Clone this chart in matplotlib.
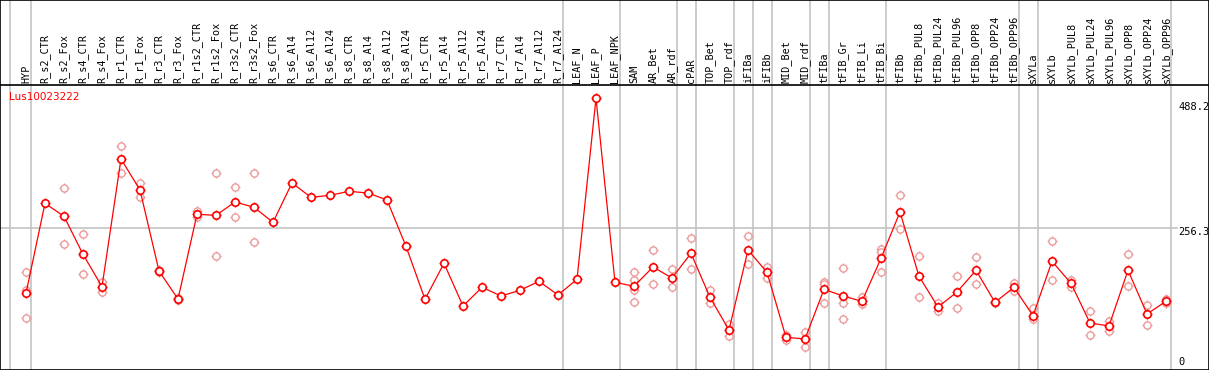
import matplotlib
matplotlib.use("Agg")
import matplotlib.pyplot as plt
import matplotlib.transforms as mtransforms

gene_id = "Lus10023222"

samples = [
    "HYP", "R_s2_CTR", "R_s2_Fox", "R_s4_CTR", "R_s4_Fox", "R_r1_CTR", "R_r1_Fox",
    "R_r3_CTR", "R_r3_Fox", "R_r1s2_CTR", "R_r1s2_Fox", "R_r3s2_CTR", "R_r3s2_Fox",
    "R_s6_CTR", "R_s6_Al4", "R_s6_Al12", "R_s6_Al24", "R_s8_CTR", "R_s8_Al4",
    "R_s8_Al12", "R_s8_Al24", "R_r5_CTR", "R_r5_Al4", "R_r5_Al12", "R_r5_Al24",
    "R_r7_CTR", "R_r7_Al4", "R_r7_Al12", "R_r7_Al24", "LEAF_N", "LEAF_P", "LEAF_NPK",
    "SAM", "AR_Bet", "AR_rdf", "cPAR", "TOP_Bet", "TOP_rdf", "iFIBa", "iFIBb",
    "MID_Bet", "MID_rdf", "tFIBa", "tFIB_Gr", "tFIB_Li", "tFIB_Bi", "tFIBb",
    "tFIBb_PUL8", "tFIBb_PUL24", "tFIBb_PUL96", "tFIBb_OPP8", "tFIBb_OPP24",
    "tFIBb_OPP96", "sXYLa", "sXYLb", "sXYLb_PUL8", "sXYLb_PUL24", "sXYLb_PUL96",
    "sXYLb_OPP8", "sXYLb_OPP24", "sXYLb_OPP96",
]

mean_expr = [
    140.4, 300.9, 277.7, 210.0, 152.2, 380.0, 324.7, 180.2, 130.2, 281.3, 279.5,
    303.3, 293.8, 267.0, 337.2, 311.6, 315.2, 322.3, 319.3, 306.8, 224.2, 129.7,
    193.9, 117.7, 151.1, 135.6, 145.7, 161.8, 137.4, 165.4, 488.2, 160.0,
    152.9, 187.3, 167.7, 211.7, 133.2, 74.9, 217.6, 177.8, 61.9, 58.9, 147.5,
    135.6, 126.1, 202.8, 285.4, 170.7, 116.0, 142.7, 181.4, 124.3, 151.1, 100.4,
    197.5, 158.2, 87.4, 82.1, 181.4, 103.5, 126.1,
]

replicates = [
    [177.8, 146.3, 95.8], [], [327.7, 227.8], [245.6, 174.8], [161.1, 142.2],
    [403.2, 354.5], [337.7, 311.6], [181.5, 179.0], [131.5, 129.0], [287.7, 277.0],
    [354.5, 206.9], [329.5, 276.0], [354.5, 231.4], [], [], [], [], [], [], [], [],
    [], [], [], [], [], [], [], [], [], [], [],
    [177.8, 164.1, 146.3, 124.3], [217.6, 157.0], [183.7, 151.1], [239.0, 183.7],
    [146.3, 122.5], [85.1, 64.2], [242.6, 192.7], [187.8, 167.1], [66.0, 57.1],
    [71.9, 44.1], [161.1, 157.0, 122.5], [185.0, 123.6, 94.0], [134.3, 120.8],
    [218.9, 214.6, 178.9], [315.2, 254.6], [206.9, 133.2], [122.5, 108.8],
    [170.7, 113.6], [205.1, 156.4], [125.5, 123.0], [159.3, 145.0], [113.6, 94.0],
    [233.7, 163.6], [164.1, 152.2], [108.8, 65.5], [91.0, 73.7], [210.0, 152.9],
    [119.0, 84.4], [130.2, 123.6],
]

# index of the last sample of each group (separator drawn just after it)
group_ends = [0, 28, 31, 34, 35, 37, 38, 39, 41, 42, 45, 52, 53, 60]
ref_value = 256.3
max_value = 488.2

W, H = 1209, 370
x0_px, step_px = 26.0, 19.0          # first sample position and spacing
zero_px, px_per_unit = 372.0, 0.5606  # vertical pixel scale

fig = plt.figure(figsize=(W / 100, H / 100), dpi=100)
ax = fig.add_axes([0, 0, 1, 1])
ax.set_xlim(-x0_px / step_px, (W - x0_px) / step_px)
ax.set_ylim((zero_px - H) / px_per_unit, zero_px / px_per_unit)
ax.set_xticks([])
ax.set_yticks([])
for sp in ax.spines.values():
    sp.set_color("black")
    sp.set_linewidth(1.2)

grey = "#c4c4c4"
ax.axvline(-0.84, color=grey, lw=1.2, zorder=1)
for g in group_ends:
    ax.axvline(g + 0.24, color=grey, lw=1.2, zorder=1)
ax.axhline(ref_value, xmin=0, xmax=1177 / W, color=grey, lw=1.2, zorder=1)

# header separator
header_y = 1 - 85 / H
ax.axhline((zero_px - 85) / px_per_unit, color="black", lw=1.2, zorder=2)

trans = mtransforms.blended_transform_factory(ax.transData, ax.transAxes)
for i, name in enumerate(samples):
    ax.text(i, 1 - 83 / H, name, rotation=90, ha="center", va="bottom",
            fontsize=7.3, family="DejaVu Sans Mono", transform=trans)

xs = list(range(len(samples)))

rep_x, rep_y = [], []
for i, reps in enumerate(replicates):
    for v in reps:
        rep_x.append(i)
        rep_y.append(v)
light = "#ec9a9a"
ax.plot(rep_x, rep_y, ls="none", marker="+", ms=7, mew=0.9, color=light, zorder=3)
ax.plot(rep_x, rep_y, ls="none", marker="o", ms=5.2, mew=1.0, mec=light, mfc="white", zorder=3)

ax.plot(xs, mean_expr, color="red", lw=0.9, zorder=4)
ax.plot(xs, mean_expr, ls="none", marker="+", ms=7.2, mew=1.0, color="red", zorder=5)
ax.plot(xs, mean_expr, ls="none", marker="o", ms=5.4, mew=1.2, mec="red", mfc="white", zorder=6)

ax.text(9 / W, 1 - 97 / H, gene_id, color="red", fontsize=7.5, ha="left", va="center",
        transform=ax.transAxes)

lab_x = 1178 / W
ax.text(lab_x, 1 - 102 / H, f"{max_value}", fontsize=7.5, family="DejaVu Sans Mono",
        ha="left", va="top", transform=ax.transAxes)
ax.text(lab_x, 1 - 227 / H, f"{ref_value}", fontsize=7.5, family="DejaVu Sans Mono",
        ha="left", va="top", transform=ax.transAxes)
ax.text(lab_x, 1 - 367 / H, "0", fontsize=7.5, family="DejaVu Sans Mono",
        ha="left", va="bottom", transform=ax.transAxes)

fig.savefig("out.png", dpi=100)
plt.close(fig)
